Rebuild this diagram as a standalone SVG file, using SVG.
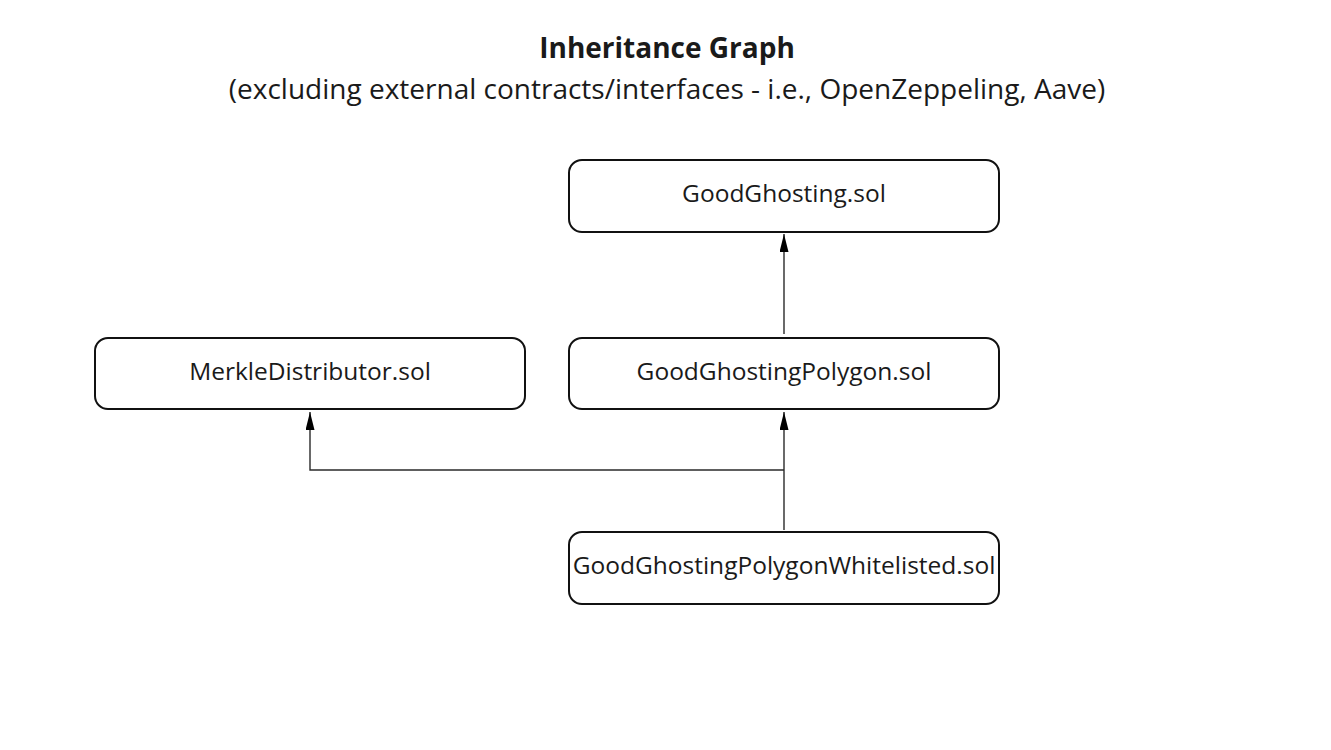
<svg xmlns="http://www.w3.org/2000/svg" width="1331" height="750" viewBox="0 0 1331 750">
<style>
text{font-family:"Open Sans","Noto Sans",sans-serif;fill:#1a1a1a;text-anchor:middle}
.title{font-size:28px;font-weight:bold}
.sub{font-size:28px}
.box{fill:#fff;stroke:#111;stroke-width:2}
.lbl{font-size:24.5px}
.edge{fill:none;stroke:#2a2a2a;stroke-width:1.4}
</style>
<defs>
<marker id="ah" viewBox="0 0 20 10" refX="20" refY="5" markerWidth="19" markerHeight="9" markerUnits="userSpaceOnUse" orient="auto">
<path d="M0,0 L20,5 L0,10 Z" fill="#000"/>
</marker>
</defs>
<rect width="1331" height="750" fill="#fff"/>
<text class="title" x="667" y="58">Inheritance Graph</text>
<text class="sub" x="667" y="99">(excluding external contracts/interfaces - i.e., OpenZeppeling, Aave)</text>
<g id="connectors">
<path class="edge" d="M784,334 L784,234" marker-end="url(#ah)"/>
<path class="edge" d="M784,530 L784,412" marker-end="url(#ah)"/>
<path class="edge" d="M784,470 L310,470 L310,412" marker-end="url(#ah)"/>
</g>
<g id="goodghosting">
<rect class="box" x="569" y="160" width="430" height="72" rx="13"/>
<text class="lbl" x="784" y="202">GoodGhosting.sol</text>
</g>
<g id="merkledistributor">
<rect class="box" x="95" y="338" width="430" height="71" rx="13"/>
<text class="lbl" x="310" y="380">MerkleDistributor.sol</text>
</g>
<g id="goodghostingpolygon">
<rect class="box" x="569" y="338" width="430" height="71" rx="13"/>
<text class="lbl" x="784" y="380">GoodGhostingPolygon.sol</text>
</g>
<g id="goodghostingpolygonwhitelisted">
<rect class="box" x="569" y="532" width="430" height="72" rx="13"/>
<text class="lbl" x="784" y="574">GoodGhostingPolygonWhitelisted.sol</text>
</g>
</svg>
